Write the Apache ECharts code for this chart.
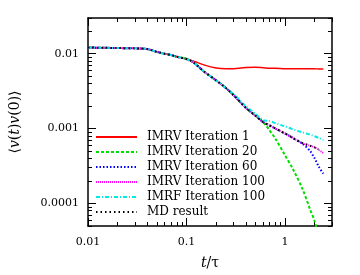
<!DOCTYPE html>
<html>
<head>
<meta charset="utf-8">
<script src="https://cdn.jsdelivr.net/npm/echarts@6/dist/echarts.min.js"></script>
<style>
html,body{margin:0;padding:0;background:#fff;}
#chart{width:360px;height:275px;}
</style>
</head>
<body>
<div id="chart"></div>
<script>
// ---- data ----
const t = [0.01,0.015,0.02,0.03,0.04,0.05,0.06,0.07,0.08,0.1,0.12,0.15,0.2,0.25,0.3,0.4,0.5,0.6,0.7,0.8,1.0,1.2,1.5,1.8,2.0,2.2,2.45];
const imrv1   = [0.0121,0.0120,0.0119,0.0118,0.01155,0.0106,0.0100,0.0096,0.0091,0.0085,0.0079,0.0071,0.00645,0.0063,0.0063,0.00655,0.0066,0.0065,0.0064,0.0064,0.0063,0.0063,0.0063,0.0063,0.0063,0.00625,0.00625];
const imrv20  = [0.0121,0.0120,0.0119,0.0118,0.01155,0.0106,0.0100,0.0096,0.0091,0.0085,0.0075,0.0058,0.0044,0.0035,0.0028,0.0019,0.00149,0.00122,0.00094,0.00073,0.00044,0.00029,0.000158,0.000083,0.000058,0.000035,null];
const imrv60  = [0.0121,0.0120,0.0119,0.0118,0.01155,0.0106,0.0100,0.0096,0.0091,0.0085,0.0075,0.0058,0.0044,0.0035,0.0028,0.0019,0.00149,0.00122,0.00110,0.00100,0.00086,0.00075,0.00063,0.0005,0.0004,0.00031,0.00025];
const imrv100 = [0.0121,0.0120,0.0119,0.0118,0.01155,0.0106,0.0100,0.0096,0.0091,0.0085,0.0075,0.0058,0.0044,0.0035,0.0028,0.0019,0.00149,0.00122,0.00110,0.00100,0.00086,0.00075,0.00064,0.00059,0.00056,0.00052,0.00047];
const imrf100 = [0.0121,0.0120,0.0119,0.0118,0.01155,0.0106,0.0100,0.0096,0.0091,0.0085,0.0075,0.0058,0.0044,0.0035,0.0029,0.0020,0.00158,0.0013,0.00126,0.00118,0.00107,0.00098,0.00089,0.00083,0.00079,0.00075,0.0007];
const md      = [0.0121,0.0120,0.0119,0.0118,0.01155,0.0106,0.0100,0.0096,0.0091,0.0085,0.0075,0.0058,0.0044,0.0035,0.0028,0.0019,0.00149,0.00122,0.00110,0.00100,0.00086,0.00075,0.00064,0.00059,0.00056,0.00053,null];
const seriesNames = ['IMRV Iteration 1','IMRV Iteration 20','IMRV Iteration 60','IMRV Iteration 100','IMRF Iteration 100','MD result'];
const xMajor = [0.01,0.1,1];
const xMinor = [0.02,0.03,0.04,0.05,0.06,0.07,0.08,0.09,0.2,0.3,0.4,0.5,0.6,0.7,0.8,0.9,2,3];
const yMajor = [0.0001,0.001,0.01];
const yMinor = [0.00005,0.00006,0.00007,0.00008,0.00009,0.0002,0.0003,0.0004,0.0005,0.0006,0.0007,0.0008,0.0009,0.002,0.003,0.004,0.005,0.006,0.007,0.008,0.009,0.02,0.03];
const xRange = [0.01, 3];
const yRange = [0.00005, 0.03];

// ---- chart ----
const FONT = 'DejaVu Serif';
const L = Math.log10;
const pairs = v => t.map((x,i)=>[x, v[i]]);
const nameStyle = {fontFamily:FONT, fontSize:14, color:'#000', rich:{i:{fontStyle:'italic', fontFamily:FONT, fontSize:14, color:'#000'}}};

// main log axes: carry data, labels and names
const xMain = {
  type:'log', logBase:10, min:xRange[0], max:xRange[1], position:'bottom',
  axisLine:{show:false}, axisTick:{show:false}, splitLine:{show:false}, minorTick:{show:false},
  axisLabel:{customValues:xMajor, formatter:v=>String(v), margin:11, color:'#000', fontFamily:FONT, fontSize:11},
  name:'{i|t}/τ', nameLocation:'middle', nameGap:30, nameTextStyle:nameStyle
};
const yMain = {
  type:'log', logBase:10, min:yRange[0], max:yRange[1], position:'left',
  axisLine:{show:false}, axisTick:{show:false}, splitLine:{show:false}, minorTick:{show:false},
  axisLabel:{customValues:yMajor, formatter:v=>String(v), margin:9, color:'#000', fontFamily:FONT, fontSize:11},
  name:'⟨{i|v}({i|t}){i|v}(0)⟩', nameLocation:'middle', nameGap:66, nameRotate:90, nameTextStyle:nameStyle
};
// tick frame axes in log10 space
function tickAx(pos, range, vals, len, line){
  return {
    type:'value', min:L(range[0]), max:L(range[1]), position:pos,
    axisLine:{show:line, onZero:false, lineStyle:{color:'#000', width:1.5}},
    axisTick:{show:true, inside:true, length:len, customValues:vals.map(L), lineStyle:{color:'#000', width:1}},
    axisLabel:{show:false}, splitLine:{show:false}, minorTick:{show:false}
  };
}

const styles = [
  {color:'#ff0000', width:1.5, type:'solid'},
  {color:'#00e000', width:2, type:[3,2]},
  {color:'#0000ff', width:2, type:[1.5,2]},
  {color:'#ff00ff', width:2, type:[1,1]},
  {color:'#00e8e8', width:2, type:[4,2,1,2]},
  {color:'#000000', width:2, type:[1.5,3]}
];
const values = [imrv1, imrv20, imrv60, imrv100, imrf100, md];

const chart = echarts.init(document.getElementById('chart'), null, {renderer:'canvas'});
chart.setOption({
  animation:false,
  backgroundColor:'#fff',
  grid:{left:87, right:28, top:18, bottom:49},
  xAxis:[xMain,
    tickAx('bottom', xRange, xMajor, 8, true), tickAx('bottom', xRange, xMinor, 4, false),
    tickAx('top', xRange, xMajor, 8, true), tickAx('top', xRange, xMinor, 4, false)],
  yAxis:[yMain,
    tickAx('left', yRange, yMajor, 8, true), tickAx('left', yRange, yMinor, 4, false),
    tickAx('right', yRange, yMajor, 8, true), tickAx('right', yRange, yMinor, 4, false)],
  legend:{
    orient:'vertical', left:95, top:131, padding:0, itemWidth:41, itemHeight:10, itemGap:3,
    itemStyle:{opacity:0},
    textStyle:{fontFamily:FONT, fontSize:12, color:'#000', padding:[0,0,0,5]},
    data:seriesNames
  },
  series: values.map((v,i)=>({
    name:seriesNames[i], type:'line', xAxisIndex:0, yAxisIndex:0,
    data:pairs(v), symbol:'none', smooth:0.3, clip:true, connectNulls:false,
    lineStyle:{color:styles[i].color, width:styles[i].width, type:styles[i].type},
    itemStyle:{color:styles[i].color}
  }))
});
</script>
</body>
</html>
